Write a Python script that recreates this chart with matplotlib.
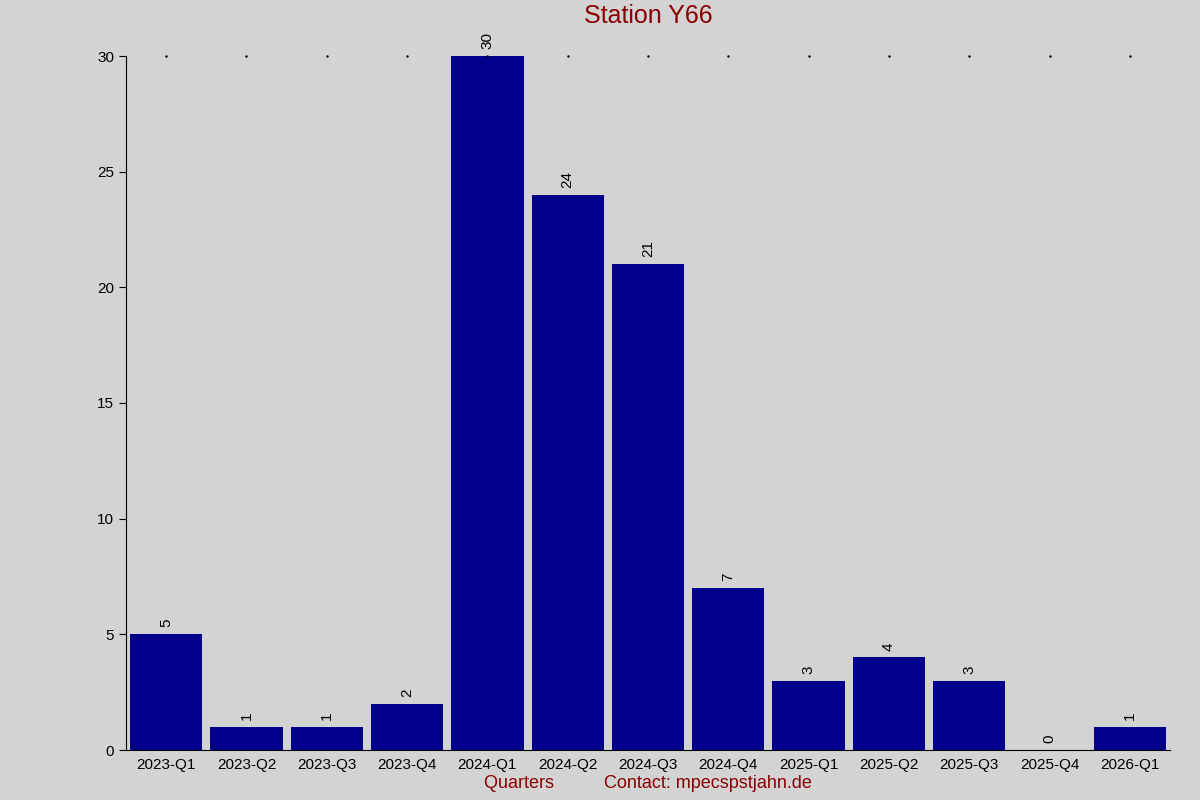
import matplotlib
matplotlib.use("Agg")
import matplotlib.pyplot as plt

plt.rcParams['font.family'] = ['Liberation Sans', 'DejaVu Sans']

quarters = ["2023-Q1","2023-Q2","2023-Q3","2023-Q4","2024-Q1","2024-Q2","2024-Q3",
            "2024-Q4","2025-Q1","2025-Q2","2025-Q3","2025-Q4","2026-Q1"]
counts = [5,1,1,2,30,24,21,7,3,4,3,0,1]

bg = "#d3d3d3"
fig = plt.figure(figsize=(12,8), dpi=100, facecolor=bg)
ax = fig.add_axes([0.105, 0.0625, 0.87, 0.8675], facecolor=bg)
x = list(range(len(quarters)))
ax.bar(x, counts, width=0.9, color="#00008b")
for xi, c in zip(x, counts):
    ax.text(xi, c + 0.3, str(c), rotation=90, ha="center", va="bottom", fontsize=11, color="black")
ax.set_xlim(-0.5, len(quarters) - 0.5)
ax.set_ylim(0, 30)
ax.set_xticks(x)
ax.set_xticklabels(quarters, fontsize=11)
ax.set_yticks([0,5,10,15,20,25,30])
ax.tick_params(axis="y", labelsize=11, length=5)
ax.tick_params(axis="x", length=0, pad=6)
for s in ["top","right"]:
    ax.spines[s].set_visible(False)
for xi in x:
    ax.plot(xi, 30, marker='.', markersize=1.5, color="black", clip_on=False)
ax.set_title("Station Y66", color="#8b0000", fontsize=18, pad=24)
ax.set_ylabel("MPECs by publication date", color="#00008b", fontsize=13, labelpad=80)
ax.set_xlabel("Quarters          Contact: mpecs\u200bpstjahn.de", color="#8b0000", fontsize=13, labelpad=2)
fig.savefig("out.png", facecolor=bg)
